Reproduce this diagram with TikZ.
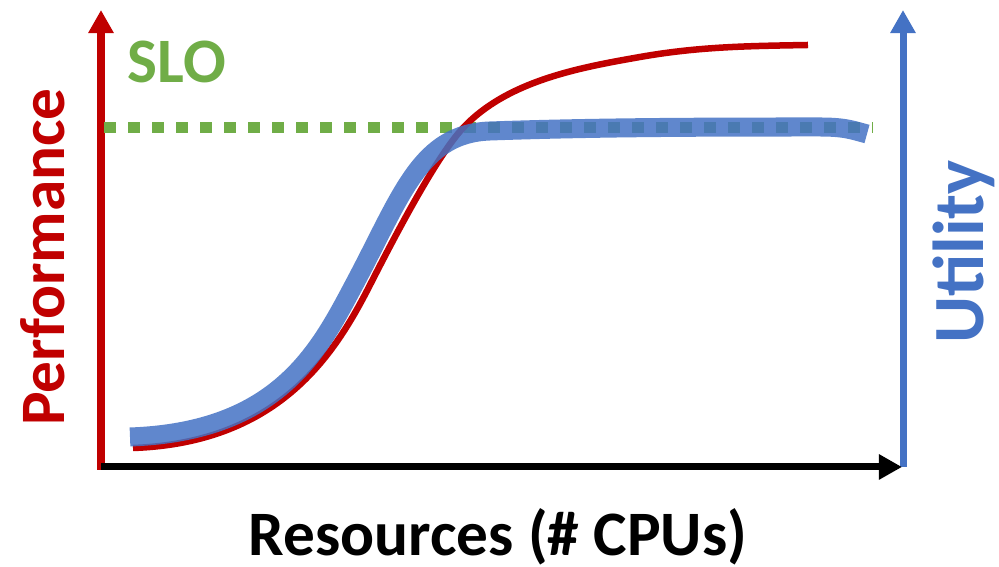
\documentclass[tikz,border=0pt]{standalone}
\usepackage{fontspec}
\setmainfont{Carlito}
\usepackage{tikz}
\usetikzlibrary{arrows.meta,calc}
\usepackage{xcolor}
\definecolor{PerfRed}{RGB}{192,0,0}
\definecolor{UtilBlue}{RGB}{68,114,196}
\definecolor{SloGreen}{RGB}{112,173,71}
\tikzset{
	axis line/.style={line width=.07cm, -{Triangle[width=.24cm,length=.23cm]}},
	axis label/.style={font=\bfseries\fontsize{18pt}{18pt}\selectfont, inner sep=0pt, anchor=base}
}
\tikzstyle{utility curve}=[draw=UtilBlue, draw opacity=.85, line width=.19cm]

\begin{document}
\begin{tikzpicture}[x=.01cm, y=.01cm]
	\useasboundingbox (0,0) rectangle (999,567);
	\pgfmathsetmacro{\xaxis}{100};
	\pgfmathsetmacro{\ytop}{557};
	\pgfmathsetmacro{\slo}{439};
%
	\coordinate (o) at (101,\xaxis);
	\coordinate (pTop) at (101,\ytop);
	\coordinate (xEnd) at (902,\xaxis);
	\coordinate (u0) at (903,\xaxis);
	\coordinate (uTop) at (903,\ytop);
%
	%axes
	\draw[axis line, UtilBlue] (u0) -- (uTop);
	\draw[axis line, PerfRed] ($ (o) + (0,-3) $) -- (pTop);
	\draw[axis line, black] (o) -- (xEnd);
%
	%service level objective
	\coordinate (s0) at (104,\slo);
	\coordinate (s1) at (873,\slo);
	\draw[SloGreen, line width=.11cm, dash pattern=on .12cm off .12cm] (s0) -- (s1);
%
	%performance curve
	\coordinate (r0) at (133,119);
	\coordinate (r1) at (371,284);
	\coordinate (r2) at (463,439);
	\coordinate (r3) at (640,510);
	\coordinate (r4) at (808,522);
	\draw[PerfRed, line width=.065cm] (r0) .. controls ++(2:150) and ++(243:75) .. (r1)
		.. controls ++(63:70) and ++(227:35) .. (r2)
		.. controls ++(47:65) and ++(190:60) .. (r3)
		.. controls ++(10:60) and ++(181:60) .. (r4);
%
	%utility curve
	\coordinate (b0) at (130,130);
	\coordinate (b1) at (355,284);
	\coordinate (b2) at (490,436);
	\coordinate (b3) at (820,440);
	\coordinate (b4) at (867,433);
	\draw[utility curve] (b0) .. controls ++(2:150) and ++(242:75) .. (b1)
		.. controls ++(62:100) and ++(182:70) .. (b2)
		.. controls ++(2:110) and ++(180:110) .. (b3)
		.. controls ++(0:25) and ++(165:15) .. (b4);
%
	\node[axis label, PerfRed, rotate=90] (perf) at (65,310) {Performance};
	\node[axis label, UtilBlue, rotate=90, font=\bfseries\fontsize{20.5pt}{20.5pt}\selectfont] (util) at (983,315) {Utility};
	\node[axis label, SloGreen] (sloLabel) at (177,484) {SLO};
	\node[axis label, black] (res) at (498,11) {Resources (\# CPUs)};
\end{tikzpicture}
\end{document}
